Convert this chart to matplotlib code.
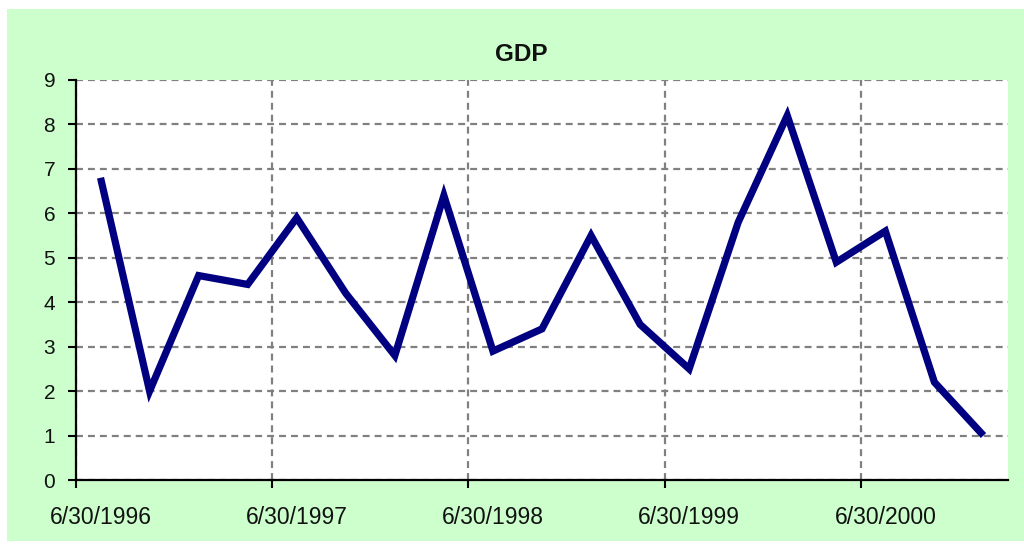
import matplotlib
matplotlib.use("Agg")
import matplotlib.pyplot as plt
import matplotlib.patches as mpatches

# ── data (quarterly GDP growth) ──────────────────────────────────────────────
quarters = [
    "6/30/1996", "9/30/1996", "12/31/1996",
    "3/31/1997", "6/30/1997", "9/30/1997", "12/31/1997",
    "3/31/1998", "6/30/1998", "9/30/1998", "12/31/1998",
    "3/31/1999", "6/30/1999", "9/30/1999", "12/31/1999",
    "3/31/2000", "6/30/2000", "9/30/2000", "12/31/2000",
]
gdp = [6.8, 2.0, 4.6, 4.4, 5.9, 4.2, 2.8, 6.4, 2.9, 3.4,
       5.5, 3.5, 2.5, 5.8, 8.2, 4.9, 5.6, 2.2, 1.0]
label_every = 4
yticks = list(range(0, 10))

plt.rcParams["font.family"] = ["Liberation Sans", "DejaVu Sans"]
plt.rcParams["lines.scale_dashes"] = False

W, H = 1024, 544
fig = plt.figure(figsize=(W / 100, H / 100), dpi=100)
fig.patch.set_facecolor("white")

# green chart area
fig.add_artist(mpatches.Rectangle((7 / W, 3 / H), (W - 7) / W, (H - 12) / H,
                                  transform=fig.transFigure,
                                  facecolor="#CCFFCC", edgecolor="none", zorder=0))

ax = fig.add_axes([76 / W, (H - 480) / H, (1008 - 76) / W, 400 / H])
ax.set_facecolor("white")
ax.set_zorder(1)

x = list(range(len(gdp)))
ax.plot(x, gdp, color="#000080", linewidth=5.2, solid_joinstyle="miter",
        solid_capstyle="butt", zorder=3)

ax.set_xlim(-0.5, len(gdp) - 0.5)
ax.set_ylim(0, 9)
ax.set_yticks(yticks)

# category axis: tick marks between groups, labels centred on category
bounds = [i - 0.5 for i in range(0, len(gdp), label_every)]
centres = list(range(0, len(gdp), label_every))
ax.set_xticks(bounds)
ax.set_xticklabels([])
ax.set_xticks(centres, minor=True)
ax.set_xticklabels([quarters[i] for i in centres], minor=True)

ax.tick_params(axis="x", which="major", direction="out", length=6, width=1.5,
               color="black")
ax.tick_params(axis="x", which="minor", length=0, pad=19, labelsize=16.5,
               labelcolor="#111111")
ax.tick_params(axis="y", direction="out", length=6, width=1.5, pad=9,
               labelsize=15, labelcolor="#111111")

grid_kw = dict(color="#808080", linewidth=1.6, linestyle=(0, (5, 3.6)))
ax.grid(True, which="major", axis="both", **grid_kw)
ax.set_axisbelow(True)

for side in ["top", "right"]:
    ax.spines[side].set_visible(False)
for side in ["left", "bottom"]:
    ax.spines[side].set_linewidth(1.6)
    ax.spines[side].set_color("black")
    ax.spines[side].set_zorder(4)

fig.text(521 / W, 1 - 61 / H, "GDP", ha="center", va="baseline",
         fontsize=17.5, fontweight="bold", color="#111111")

fig.savefig("out.png", dpi=100)
